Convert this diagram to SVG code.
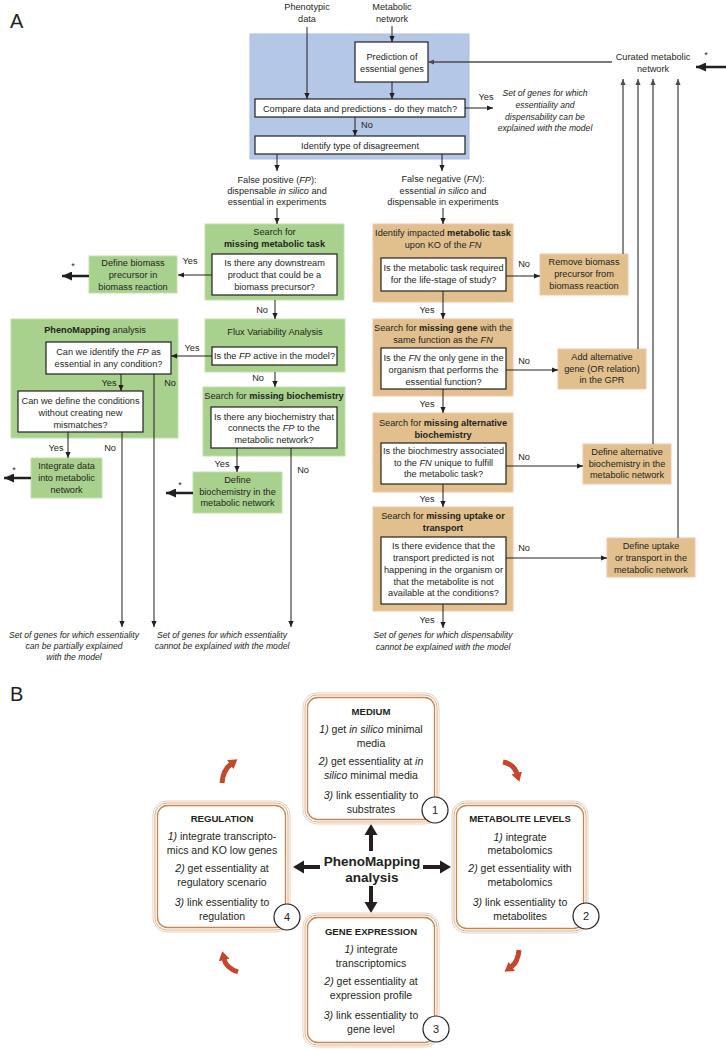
<svg xmlns="http://www.w3.org/2000/svg" width="726" height="1049" viewBox="0 0 726 1049">
<defs>
<style>
text{font-family:"Liberation Sans",Arial,sans-serif;fill:#231f20;text-anchor:middle}
.t{font-size:9.2px}
.s{font-size:9.2px;text-anchor:start}
.it{font-size:8.6px;font-style:italic}
.b{font-weight:bold}
.i{font-style:italic}
.lab{font-size:20px;text-anchor:start}
.bt{font-size:10.5px}
.bh{font-size:9.6px;font-weight:bold}
.num{font-size:11px}
.blue{fill:#b4c7e7;stroke:#a9bfe3;stroke-width:1}
.green{fill:#a9d18e;stroke:#c3dfb0;stroke-width:1}
.tan{fill:#e2c08e;stroke:#f0c6b0;stroke-width:1}
.white{fill:#fff;stroke:#231f20;stroke-width:1.2}
.ln{stroke:#231f20;stroke-width:1;fill:none}
.gr{stroke:#4d4d4d;stroke-width:1.3;fill:none}
.thick{stroke:#231f20;stroke-width:2.5;fill:none}
.red{stroke:#c5462b;stroke-width:5;fill:none}
.o1{fill:none;stroke:#ebcfb7;stroke-width:1}
.o2{fill:none;stroke:#dcae8a;stroke-width:1}
.o3{fill:none;stroke:#c9834f;stroke-width:1.3}
.circ{fill:#fff;stroke:#231f20;stroke-width:1.2}
.blk{fill:#231f20}
</style>
<marker id="ah" markerUnits="userSpaceOnUse" markerWidth="7" markerHeight="6" refX="6" refY="3" orient="auto"><path d="M0,0.4 L6,3 L0,5.6 z" fill="#231f20"/></marker>
<marker id="ahg" markerUnits="userSpaceOnUse" markerWidth="7" markerHeight="6" refX="6" refY="3" orient="auto"><path d="M0,0.4 L6,3 L0,5.6 z" fill="#4d4d4d"/></marker>
<marker id="big" markerUnits="userSpaceOnUse" markerWidth="11" markerHeight="9" refX="10" refY="4.5" orient="auto"><path d="M0,0 L10,4.5 L0,9 z" fill="#231f20"/></marker>
<marker id="rh" markerUnits="userSpaceOnUse" markerWidth="12" markerHeight="12" refX="1" refY="6" orient="auto"><path d="M0,0.5 L9,6 L0,11.5 z" fill="#c5462b"/></marker>
</defs>
<rect width="726" height="1049" fill="#fff"/>

<text class="lab" x="10" y="28">A</text>
<text class="lab" x="10" y="701">B</text>

<g id="inputs">
<text class="t" x="307" y="10">Phenotypic</text>
<text class="t" x="307" y="22">data</text>
<text class="t" x="392" y="10">Metabolic</text>
<text class="t" x="392" y="22">network</text>
</g>

<g id="blue-panel"><rect class="blue" x="250" y="34" width="219" height="125"/></g>

<g id="prediction">
<rect class="white" x="355" y="42" width="73" height="40"/>
<text class="t" x="392" y="60">Prediction of</text>
<text class="t" x="392" y="72">essential genes</text>
</g>
<g id="compare">
<rect class="white" x="255" y="99" width="210" height="18"/>
<text class="t" x="360" y="111.5">Compare data and predictions - do they match?</text>
</g>
<g id="identify">
<rect class="white" x="255" y="136" width="210" height="18"/>
<text class="t" x="360" y="148.5">Identify type of disagreement</text>
</g>

<g id="explained">
<text class="it" x="545" y="96">Set of genes for which</text>
<text class="it" x="545" y="108">essentiality and</text>
<text class="it" x="545" y="120">dispensability can be</text>
<text class="it" x="545" y="131">explained with the model</text>
</g>

<g id="curated">
<text class="t" x="653" y="60">Curated metabolic</text>
<text class="t" x="653" y="72">network</text>
<text class="t" x="706" y="58">*</text>
</g>

<g id="fp-label">
<text class="t" x="277" y="183">False positive (<tspan class="i">FP</tspan>):</text>
<text class="t" x="277" y="194">dispensable <tspan class="i">in silico</tspan> and</text>
<text class="t" x="277" y="205">essential in experiments</text>
</g>
<g id="fn-label">
<text class="t" x="443" y="182">False negative (<tspan class="i">FN</tspan>):</text>
<text class="t" x="443" y="194">essential <tspan class="i">in silico</tspan> and</text>
<text class="t" x="443" y="205">dispensable in experiments</text>
</g>

<g id="missing-task">
<rect class="green" x="205" y="224" width="139" height="76"/>
<text class="t" x="274.5" y="235">Search for</text>
<text class="t b" x="274.5" y="247">missing metabolic task</text>
<rect class="white" x="212" y="254" width="125" height="41"/>
<text class="t" x="274.5" y="266">Is there any downstream</text>
<text class="t" x="274.5" y="278">product that could be a</text>
<text class="t" x="274.5" y="290">biomass precursor?</text>
</g>
<g id="define-biomass">
<rect class="green" x="89" y="256" width="88" height="37"/>
<text class="t" x="133" y="266">Define biomass</text>
<text class="t" x="133" y="278">precursor in</text>
<text class="t" x="133" y="290">biomass reaction</text>
<text class="t" x="73" y="269">*</text>
</g>

<g id="fva">
<rect class="green" x="205" y="319" width="140" height="53"/>
<text class="t" x="275" y="335">Flux Variability Analysis</text>
<rect class="white" x="212" y="347" width="125" height="18"/>
<text class="t" x="274.5" y="359">Is the <tspan class="i">FP</tspan> active in the model?</text>
</g>

<g id="phenomapping">
<rect class="green" x="11" y="319" width="167" height="119"/>
<text class="t" x="95" y="333"><tspan class="b">PhenoMapping</tspan> analysis</text>
<rect class="white" x="46" y="342" width="125" height="32"/>
<text class="t" x="108.5" y="355">Can we identify the <tspan class="i">FP</tspan> as</text>
<text class="t" x="108.5" y="367">essential in any condition?</text>
<rect class="white" x="18" y="391" width="125" height="41"/>
<text class="t" x="80.5" y="404">Can we define the conditions</text>
<text class="t" x="80.5" y="416">without creating new</text>
<text class="t" x="80.5" y="428">mismatches?</text>
</g>

<g id="integrate">
<rect class="green" x="31" y="458" width="71" height="40"/>
<text class="t" x="66.5" y="469">Integrate data</text>
<text class="t" x="66.5" y="481">into metabolic</text>
<text class="t" x="66.5" y="493">network</text>
<text class="t" x="14" y="473">*</text>
</g>

<g id="missing-biochem">
<rect class="green" x="203" y="387" width="142" height="69"/>
<text class="t" x="274" y="399">Search for <tspan class="b">missing biochemistry</tspan></text>
<rect class="white" x="211" y="407" width="126" height="41"/>
<text class="t" x="274" y="420">Is there any biochemistry that</text>
<text class="t" x="274" y="431">connects the <tspan class="i">FP</tspan> to the</text>
<text class="t" x="274" y="443">metabolic network?</text>
</g>

<g id="define-biochem">
<rect class="green" x="193" y="472" width="89" height="41"/>
<text class="t" x="237.5" y="483">Define</text>
<text class="t" x="237.5" y="495">biochemistry in the</text>
<text class="t" x="237.5" y="506">metabolic network</text>
<text class="t" x="180" y="488">*</text>
</g>

<g id="end-fp">
<text class="it" x="74" y="638">Set of genes for which essentiality</text>
<text class="it" x="74" y="649">can be partially explained</text>
<text class="it" x="74" y="660">with the model</text>
<text class="it" x="222" y="638">Set of genes for which essentiality</text>
<text class="it" x="222" y="649">cannot be explained with the model</text>
</g>

<g id="fn-task">
<rect class="tan" x="373" y="224" width="140" height="78"/>
<text class="t" x="443" y="236">Identify impacted <tspan class="b">metabolic task</tspan></text>
<text class="t" x="443" y="248">upon KO of the <tspan class="i">FN</tspan></text>
<rect class="white" x="381" y="258" width="125" height="33"/>
<text class="t" x="443.5" y="271">Is the metabolic task required</text>
<text class="t" x="443.5" y="283">for the life-stage of study?</text>
</g>
<g id="remove-biomass">
<rect class="tan" x="540" y="254" width="88" height="41"/>
<text class="t" x="584" y="265">Remove biomass</text>
<text class="t" x="584" y="277">precursor from</text>
<text class="t" x="584" y="289">biomass reaction</text>
</g>

<g id="fn-gene">
<rect class="tan" x="373" y="319" width="140" height="77"/>
<text class="t" x="443" y="331">Search for <tspan class="b">missing gene</tspan> with the</text>
<text class="t" x="443" y="343">same function as the <tspan class="i">FN</tspan></text>
<rect class="white" x="381" y="348" width="125" height="41"/>
<text class="t" x="443.5" y="361">Is the <tspan class="i">FN</tspan> the only gene in the</text>
<text class="t" x="443.5" y="373">organism that performs the</text>
<text class="t" x="443.5" y="385">essential function?</text>
</g>
<g id="add-gene">
<rect class="tan" x="558" y="349" width="88" height="40"/>
<text class="t" x="602" y="360">Add alternative</text>
<text class="t" x="602" y="372">gene (OR relation)</text>
<text class="t" x="602" y="383">in the GPR</text>
</g>

<g id="fn-biochem">
<rect class="tan" x="373" y="413" width="140" height="79"/>
<text class="t" x="443" y="426">Search for <tspan class="b">missing alternative</tspan></text>
<text class="t b" x="443" y="438">biochemistry</text>
<rect class="white" x="381" y="443" width="125" height="41"/>
<text class="t" x="443.5" y="454">Is the biochmestry associated</text>
<text class="t" x="443.5" y="466">to the <tspan class="i">FN</tspan> unique to fulfill</text>
<text class="t" x="443.5" y="477">the metabolic task?</text>
</g>
<g id="define-alt">
<rect class="tan" x="583" y="444" width="88" height="40"/>
<text class="t" x="627" y="455">Define alternative</text>
<text class="t" x="627" y="467">biochemistry in the</text>
<text class="t" x="627" y="478">metabolic network</text>
</g>

<g id="fn-transport">
<rect class="tan" x="373" y="507" width="140" height="104"/>
<text class="t" x="443" y="519">Search for <tspan class="b">missing uptake or</tspan></text>
<text class="t b" x="443" y="531">transport</text>
<rect class="white" x="381" y="537" width="125" height="67"/>
<text class="t" x="443.5" y="549">Is there evidence that the</text>
<text class="t" x="443.5" y="561">transport predicted is not</text>
<text class="t" x="443.5" y="573">happening in the organism or</text>
<text class="t" x="443.5" y="585">that the metabolite is not</text>
<text class="t" x="443.5" y="596">available at the conditions?</text>
</g>
<g id="define-uptake">
<rect class="tan" x="607" y="538" width="88" height="39"/>
<text class="t" x="651" y="549">Define uptake</text>
<text class="t" x="651" y="561">or transport in the</text>
<text class="t" x="651" y="573">metabolic network</text>
</g>

<g id="end-fn">
<text class="it" x="443" y="638">Set of genes for which dispensability</text>
<text class="it" x="443" y="650">cannot be explained with the model</text>
</g>

<g id="connectors">
<path class="ln" d="M307,27 V99" marker-end="url(#ah)"/>
<path class="ln" d="M392,26 V42" marker-end="url(#ah)"/>
<path class="ln" d="M392,82 V99" marker-end="url(#ah)"/>
<path class="ln" d="M355,117 V136" marker-end="url(#ah)"/>
<text class="s" x="361" y="128">No</text>
<path class="ln" d="M465,108 H493" marker-end="url(#ah)"/>
<text class="t" x="486" y="100">Yes</text>
<path class="ln" d="M277,154 V171" marker-end="url(#ah)"/>
<path class="ln" d="M442,154 V171" marker-end="url(#ah)"/>
<path class="gr" d="M612,62 H428" marker-end="url(#ahg)"/>
<path class="gr" d="M623,254 V79" marker-end="url(#ahg)"/>
<path class="gr" d="M638,349 V79" marker-end="url(#ahg)"/>
<path class="gr" d="M653,444 V79" marker-end="url(#ahg)"/>
<path class="gr" d="M678,538 V79" marker-end="url(#ahg)"/>
<path class="thick" d="M726,67 H696" marker-end="url(#big)"/>

<path class="ln" d="M277,208 V224" marker-end="url(#ah)"/>
<path class="ln" d="M212,275 H178" marker-end="url(#ah)"/>
<text class="t" x="190" y="264">Yes</text>
<path class="thick" d="M89,276 H62" marker-end="url(#big)"/>
<path class="ln" d="M275,300 V319" marker-end="url(#ah)"/>
<text class="t" x="262" y="313">No</text>
<path class="ln" d="M212,356 H171" marker-end="url(#ah)"/>
<text class="t" x="192" y="351">Yes</text>
<path class="ln" d="M275,372 V387" marker-end="url(#ah)"/>
<text class="t" x="258" y="381">No</text>
<path class="ln" d="M121,374 V391" marker-end="url(#ah)"/>
<text class="t" x="109" y="386">Yes</text>
<path class="ln" d="M154,374 V627" marker-end="url(#ah)"/>
<text class="t" x="170" y="386">No</text>
<path class="ln" d="M68,432 V458" marker-end="url(#ah)"/>
<text class="t" x="56" y="451">Yes</text>
<path class="ln" d="M122,432 V627" marker-end="url(#ah)"/>
<text class="t" x="110" y="451">No</text>
<path class="thick" d="M31,478 H4" marker-end="url(#big)"/>
<path class="ln" d="M237,448 V472" marker-end="url(#ah)"/>
<text class="t" x="222" y="467">Yes</text>
<path class="ln" d="M291,448 V627" marker-end="url(#ah)"/>
<text class="t" x="303" y="473">No</text>
<path class="thick" d="M193,493 H166" marker-end="url(#big)"/>

<path class="ln" d="M443,208 V224" marker-end="url(#ah)"/>
<path class="ln" d="M506,276 H540" marker-end="url(#ah)"/>
<text class="t" x="524" y="267">No</text>
<path class="ln" d="M443,291 V319" marker-end="url(#ah)"/>
<text class="t" x="427" y="313">Yes</text>
<path class="ln" d="M506,370 H558" marker-end="url(#ah)"/>
<text class="t" x="524" y="364">No</text>
<path class="ln" d="M443,389 V413" marker-end="url(#ah)"/>
<text class="t" x="427" y="407">Yes</text>
<path class="ln" d="M506,466 H583" marker-end="url(#ah)"/>
<text class="t" x="524" y="460">No</text>
<path class="ln" d="M443,484 V507" marker-end="url(#ah)"/>
<text class="t" x="427" y="502">Yes</text>
<path class="ln" d="M506,558 H607" marker-end="url(#ah)"/>
<text class="t" x="524" y="551">No</text>
<path class="ln" d="M443,604 V628" marker-end="url(#ah)"/>
<text class="t" x="427" y="623">Yes</text>

<path class="red" d="M222,783 Q223,770 231,764" marker-end="url(#rh)"/>
<path class="red" d="M503,762 Q514,764 517,774" marker-end="url(#rh)"/>
<path class="red" d="M519,950 Q518,962 511,967" marker-end="url(#rh)"/>
<path class="red" d="M238,972 Q226,968 224,959" marker-end="url(#rh)"/>

<polygon class="blk" points="369,851 373,851 373,835 377.5,835 371,824 364.5,835 369,835"/>
<polygon class="blk" points="369,886 373,886 373,902 377.5,902 371,913 364.5,902 369,902"/>
<polygon class="blk" points="320,865 320,869 304,869 304,873.5 293,867 304,860.5 304,865"/>
<polygon class="blk" points="423,865 423,869 440,869 440,873.5 451,867 440,860.5 440,865"/>
</g>

<g id="center">
<text class="b" font-size="13.5" x="372" y="866">PhenoMapping</text>
<text class="b" font-size="13.5" x="372" y="882">analysis</text>
</g>

<g id="medium">
<rect class="o1" x="303" y="693" width="136" height="131" rx="14"/>
<rect class="o2" x="305" y="695" width="132" height="127" rx="12"/>
<rect class="o3" x="307.5" y="697.5" width="127" height="122" rx="10"/>
<text class="bh" x="371" y="714.5">MEDIUM</text>
<text class="bt" x="371" y="733"><tspan class="i">1)</tspan> get <tspan class="i">in silico</tspan> minimal</text>
<text class="bt" x="371" y="747">media</text>
<text class="bt" x="371" y="765"><tspan class="i">2)</tspan> get essentiality at <tspan class="i">in</tspan></text>
<text class="bt" x="371" y="779"><tspan class="i">silico</tspan> minimal media</text>
<text class="bt" x="371" y="799"><tspan class="i">3)</tspan> link essentiality to</text>
<text class="bt" x="371" y="813">substrates</text>
<circle class="circ" cx="435" cy="810" r="13"/>
<text class="num" x="435" y="814">1</text>
</g>

<g id="regulation">
<rect class="o1" x="153" y="801" width="137" height="131" rx="14"/>
<rect class="o2" x="155" y="803" width="133" height="127" rx="12"/>
<rect class="o3" x="157.5" y="805.5" width="128" height="122" rx="10"/>
<text class="bh" x="222" y="821.5">REGULATION</text>
<text class="bt" x="222" y="840"><tspan class="i">1)</tspan> integrate transcripto-</text>
<text class="bt" x="222" y="854">mics and KO low genes</text>
<text class="bt" x="222" y="872"><tspan class="i">2)</tspan> get essentiality at</text>
<text class="bt" x="222" y="886">regulatory scenario</text>
<text class="bt" x="222" y="906"><tspan class="i">3)</tspan> link essentiality to</text>
<text class="bt" x="222" y="920">regulation</text>
<circle class="circ" cx="287" cy="917" r="13"/>
<text class="num" x="287" y="921">4</text>
</g>

<g id="metabolite">
<rect class="o1" x="452" y="801" width="136" height="132" rx="14"/>
<rect class="o2" x="454" y="803" width="132" height="128" rx="12"/>
<rect class="o3" x="456.5" y="805.5" width="127" height="123" rx="10"/>
<text class="bh" x="520" y="821.5">METABOLITE LEVELS</text>
<text class="bt" x="520" y="841"><tspan class="i">1)</tspan> integrate</text>
<text class="bt" x="520" y="854">metabolomics</text>
<text class="bt" x="520" y="872"><tspan class="i">2)</tspan> get essentiality with</text>
<text class="bt" x="520" y="886">metabolomics</text>
<text class="bt" x="520" y="906"><tspan class="i">3)</tspan> link essentiality to</text>
<text class="bt" x="520" y="920">metabolites</text>
<circle class="circ" cx="586" cy="916" r="13"/>
<text class="num" x="586" y="920">2</text>
</g>

<g id="gene-expression">
<rect class="o1" x="303" y="913" width="136" height="134" rx="14"/>
<rect class="o2" x="305" y="915" width="132" height="130" rx="12"/>
<rect class="o3" x="307.5" y="917.5" width="127" height="125" rx="10"/>
<text class="bh" x="371" y="934.5">GENE EXPRESSION</text>
<text class="bt" x="371" y="953"><tspan class="i">1)</tspan> integrate</text>
<text class="bt" x="371" y="967">transcriptomics</text>
<text class="bt" x="371" y="985"><tspan class="i">2)</tspan> get essentiality at</text>
<text class="bt" x="371" y="999">expression profile</text>
<text class="bt" x="371" y="1019"><tspan class="i">3)</tspan> link essentiality to</text>
<text class="bt" x="371" y="1033">gene level</text>
<circle class="circ" cx="436" cy="1029" r="13"/>
<text class="num" x="436" y="1033">3</text>
</g>
</svg>
